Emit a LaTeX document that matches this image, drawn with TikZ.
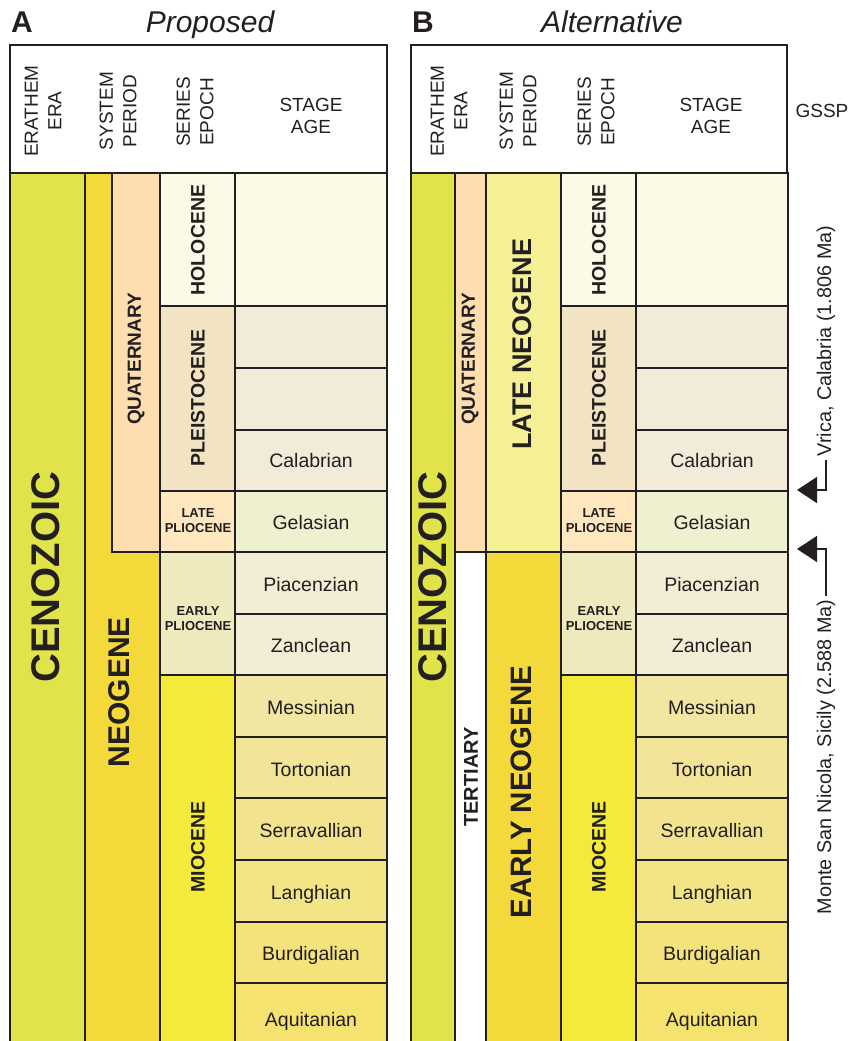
\documentclass[tikz,border=0pt]{standalone}
\usepackage{fontspec}
\setmainfont{Liberation Sans}
\usetikzlibrary{arrows.meta}

\definecolor{txt}{RGB}{35,31,32}
\definecolor{cenozoic}{RGB}{225,227,75}
\definecolor{neogene}{RGB}{244,217,58}
\definecolor{quaternary}{RGB}{254,222,176}
\definecolor{lateneogene}{RGB}{245,240,150}
\definecolor{holocene}{RGB}{253,249,231}
\definecolor{pleistocene}{RGB}{242,228,195}
\definecolor{pleiststage}{RGB}{243,235,217}
\definecolor{latepliocene}{RGB}{255,232,191}
\definecolor{gelasian}{RGB}{239,240,207}
\definecolor{earlypliocene}{RGB}{239,234,190}
\definecolor{pliostage}{RGB}{242,237,212}
\definecolor{miocene}{RGB}{243,234,59}
\definecolor{messinian}{RGB}{241,230,162}
\definecolor{tortonian}{RGB}{242,229,152}
\definecolor{serravallian}{RGB}{242,228,143}
\definecolor{langhian}{RGB}{243,228,133}
\definecolor{burdigalian}{RGB}{244,227,123}
\definecolor{aquitanian}{RGB}{245,226,111}

\tikzset{
    cell/.style={draw=txt, line width=2.4pt},
    frame/.style={draw=txt, line width=2.4pt},
    paneltag/.style={text=txt, inner sep=0pt, font=\bfseries\fontsize{30}{32}\selectfont},
    paneltitle/.style={text=txt, inner sep=0pt, font=\itshape\fontsize{30}{32}\selectfont},
    hdr/.style={text=txt, align=center, font=\fontsize{19}{21.5}\selectfont},
    hdrrot/.style={text=txt, align=center, rotate=90, font=\fontsize{19}{23.5}\selectfont},
    stagelbl/.style={text=txt, anchor=base, font=\fontsize{19.5}{22}\selectfont},
    serieslbl/.style={text=txt, rotate=90, font=\bfseries\fontsize{19.5}{22}\selectfont},
    subseries/.style={text=txt, align=center, font=\bfseries\fontsize{13}{15}\selectfont},
    unitlbl/.style={text=txt, rotate=90, font=\bfseries\fontsize{#1}{#1}\selectfont},
    gssplbl/.style={text=txt, rotate=90, font=\fontsize{19.8}{22}\selectfont},
    marker/.style={draw=txt, line width=1.4pt, -{Triangle[length=20pt, width=26pt]}},
}

\begin{document}
\begin{tikzpicture}[x=1pt, y=-1pt]
    \useasboundingbox (0,0) rectangle (849,1041);

    \node[paneltag, anchor=base west] (tagA) at (11,33) {A};
    \node[paneltitle, anchor=base] (titleA) at (210,33) {Proposed};
    \node[paneltag, anchor=base west] (tagB) at (412,33) {B};
    \node[paneltitle, anchor=base] (titleB) at (612,33) {Alternative};

    \draw[frame] (10,45) rectangle (387,173);
    \draw[frame] (411,45) rectangle (787,173);
    \node[hdrrot] (eraA) at (43,111) {ERATHEM\\ERA};
    \node[hdrrot] (systemA) at (118,111) {SYSTEM\\PERIOD};
    \node[hdrrot] (seriesA) at (195,112) {SERIES\\EPOCH};
    \node[hdr] (stageA) at (311,116) {STAGE\\AGE};
    \node[hdrrot] (eraB) at (449,111) {ERATHEM\\ERA};
    \node[hdrrot] (systemB) at (518,111) {SYSTEM\\PERIOD};
    \node[hdrrot] (seriesB) at (596,112) {SERIES\\EPOCH};
    \node[hdr] (stageB) at (711,116) {STAGE\\AGE};
    \node[hdr, anchor=base] (gssp) at (822,117) {GSSP};

    \filldraw[cell, fill=cenozoic] (10,173) rectangle (85,1046);
    \filldraw[cell, fill=neogene] (85,173) rectangle (160,1046);
    \filldraw[cell, fill=quaternary] (112,173) rectangle (160,552);
    \node[unitlbl=40] (cenozoicA) at (46,577) {CENOZOIC};
    \node[unitlbl=30] (neogeneA) at (119,692) {NEOGENE};
    \node[serieslbl, font=\bfseries\fontsize{19}{22}\selectfont] (quatA) at (136,359) {QUATERNARY};

    \filldraw[cell, fill=cenozoic] (411,173) rectangle (455,1046);
    \filldraw[cell, fill=quaternary] (455,173) rectangle (486,552);
    \filldraw[cell, fill=white] (455,552) rectangle (486,1046);
    \filldraw[cell, fill=lateneogene] (486,173) rectangle (561,552);
    \filldraw[cell, fill=neogene] (486,552) rectangle (561,1046);
    \node[unitlbl=40] (cenozoicB) at (433,577) {CENOZOIC};
    \node[serieslbl, font=\bfseries\fontsize{19}{22}\selectfont] (quatB) at (470,359) {QUATERNARY};
    \node[serieslbl, font=\bfseries\fontsize{20}{22}\selectfont] (tertiary) at (471,777) {TERTIARY};
    \node[unitlbl=27] (lateneo) at (522,344) {LATE NEOGENE};
    \node[unitlbl=29.5] (earlyneo) at (521,792) {EARLY NEOGENE};

    \foreach \s in {0,401} {
        \begin{scope}[shift={(\s,0)}]
            \foreach \ya/\yb/\c in {173/306/holocene, 306/368/pleiststage, 368/430/pleiststage,
                    430/491/pleiststage, 491/552/gelasian, 552/614/pliostage, 614/675/pliostage,
                    675/737/messinian, 737/798/tortonian, 798/860/serravallian, 860/922/langhian,
                    922/983/burdigalian, 983/1046/aquitanian}
                \filldraw[cell, fill=\c] (235,\ya) rectangle (387,\yb);
            \foreach \ya/\yb/\c in {173/306/holocene, 306/491/pleistocene, 491/552/latepliocene,
                    552/675/earlypliocene, 675/1046/miocene}
                \filldraw[cell, fill=\c] (160,\ya) rectangle (235,\yb);
            \foreach \y/\t in {467/Calabrian, 529/Gelasian, 591/Piacenzian, 652/Zanclean,
                    714/Messinian, 776/Tortonian, 837/Serravallian, 899/Langhian,
                    960/Burdigalian, 1026/Aquitanian}
                \node[stagelbl] (st\s\t) at (311,\y) {\t};
            \node[serieslbl] (holo\s) at (198,240) {HOLOCENE};
            \node[serieslbl] (pleist\s) at (198,398) {PLEISTOCENE};
            \node[subseries] (lplio\s) at (198,521) {LATE\\PLIOCENE};
            \node[subseries] (eplio\s) at (198,619) {EARLY\\PLIOCENE};
            \node[serieslbl] (mio\s) at (198,847) {MIOCENE};
        \end{scope}
    }

    \node[gssplbl] (vrica) at (826,341) {Vrica, Calabria (1.806 Ma)};
    \node[gssplbl] (msn) at (826,757) {Monte San Nicola, Sicily (2.588 Ma)};
    \coordinate (tipVrica) at (797,490);
    \coordinate (tipMsn) at (797,549);
    \draw[marker] (vrica.west) |- (tipVrica);
    \draw[marker] (msn.east) |- (tipMsn);
\end{tikzpicture}
\end{document}
